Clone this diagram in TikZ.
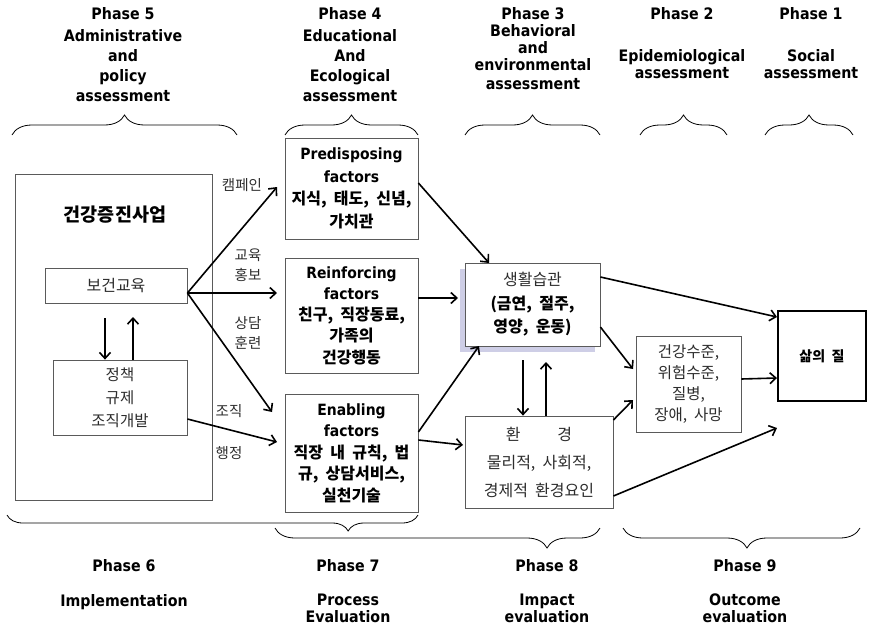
\documentclass[tikz,border=0pt]{standalone}
\usepackage{fontspec}
\setmainfont{DejaVu Sans}
\newfontfamily\enb[FakeStretch=0.9]{DejaVu Sans}
\newfontfamily\kr[WordSpace=2]{Noto Sans CJK KR}
\usetikzlibrary{arrows.meta,decorations.pathreplacing}
\definecolor{bord}{RGB}{90,90,90}
\definecolor{txt}{RGB}{45,45,45}
\definecolor{shadowc}{RGB}{206,206,230}
\newcommand\EB[1]{{\enb\bfseries\fontsize{15.5}{21}\selectfont #1}}
\newcommand\KB[1]{{\kr\bfseries\fontsize{16}{21}\selectfont #1}}
\newcommand\KR[1]{{\kr\fontsize{16}{21}\selectfont #1}}
\begin{document}
\begin{tikzpicture}[x=1pt,y=-1pt,
  box/.style={draw=bord, line width=0.8pt, fill=white, inner sep=0pt, align=center, text=txt},
  arr/.style={-{Straight Barb[length=6pt,width=11pt]}, line width=1.6pt},
  hd/.style={font=\enb\bfseries\fontsize{15.8}{18}\selectfont, inner sep=0pt, text height=11pt, text depth=3pt},
  lab/.style={font=\kr\fontsize{14.5}{20}\selectfont, inner sep=0pt, align=center, text=txt},
  brc/.style={decorate, line width=0.8pt},
]
\useasboundingbox (0,0) rectangle (869,629);

% ---- top headers
\node[hd] (h5a) at (123,15) {Phase 5};
\node[hd] (h5b) at (123,37) {Administrative};
\node[hd] (h5c) at (123,57) {and};
\node[hd] (h5d) at (123,77) {policy};
\node[hd] (h5e) at (123,97) {assessment};

\node[hd] (h4a) at (350,15) {Phase 4};
\node[hd] (h4b) at (350,37) {Educational};
\node[hd] (h4c) at (350,57) {And};
\node[hd] (h4d) at (350,77) {Ecological};
\node[hd] (h4e) at (350,97) {assessment};

\node[hd] (h3a) at (533,15) {Phase 3};
\node[hd] (h3b) at (533,32) {Behavioral};
\node[hd] (h3c) at (533,49) {and};
\node[hd] (h3d) at (533,66) {environmental};
\node[hd] (h3e) at (533,85) {assessment};

\node[hd] (h2a) at (682,15) {Phase 2};
\node[hd] (h2b) at (682,57) {Epidemiological};
\node[hd] (h2c) at (682,74) {assessment};

\node[hd] (h1a) at (811,15) {Phase 1};
\node[hd] (h1b) at (811,57) {Social};
\node[hd] (h1c) at (811,74) {assessment};

% ---- top braces
\draw[brc, decoration={brace, amplitude=20pt}] (12,135) -- (237,135);
\draw[brc, decoration={brace, amplitude=20pt}] (285,135) -- (418,135);
\draw[brc, decoration={brace, amplitude=20pt}] (465,135) -- (600,135);
\draw[brc, decoration={brace, amplitude=20pt}] (640,135) -- (727,135);
\draw[brc, decoration={brace, amplitude=20pt}] (765,135) -- (853,135);

% ---- left program box
\node[box, draw=bord, minimum width=197pt, minimum height=326pt] (big) at (113.5,337) {};
\node[inner sep=0pt, font=\kr\bfseries\fontsize{18.5}{20}\selectfont] (title) at (115,215) {건강증진사업};
\node[box, minimum width=142pt, minimum height=35pt, font=\kr\fontsize{16}{20}\selectfont] (heb) at (116,285.5) {보건교육};
\node[box, minimum width=134pt, minimum height=75pt, font=\kr\fontsize{15.5}{23}\selectfont] (pol) at (120,397.5) {정책\\규제\\조직개발};

% ---- factor boxes
\node[box, text=black, minimum width=133pt, minimum height=101pt, font=\fontsize{15}{22.5}\selectfont] (pre) at (351.5,188.5)
  {\EB{Predisposing}\\\EB{factors}\\\KB{지식, 태도, 신념,}\\\KB{가치관}};
\node[box, text=black, minimum width=133pt, minimum height=115pt, font=\fontsize{15}{21.3}\selectfont] (rei) at (351.5,315.5)
  {\EB{Reinforcing}\\\EB{factors}\\\KB{친구, 직장동료,}\\\KB{가족의}\\\KB{건강행동}};
\node[box, text=black, minimum width=133pt, minimum height=118pt, font=\fontsize{15}{21.5}\selectfont] (ena) at (351.5,453)
  {\EB{Enabling}\\\EB{factors}\\\KB{직장 내 규칙, 법}\\\KB{규, 상담서비스,}\\\KB{실천기술}};

% ---- behaviour and environment
\fill[shadowc] (460,269) rectangle (595,352);
\node[box, text=black, minimum width=135pt, minimum height=83pt, font=\fontsize{15}{23.5}\selectfont] (life) at (532.5,304.5)
  {{\color{txt}\KR{생활습관}}\\\KB{(금연, 절주,}\\\KB{영양, 운동)}};
\node[box, minimum width=148pt, minimum height=92pt, font=\kr\fontsize{16}{28}\selectfont] (env) at (539,462)
  {환\hspace{37pt}경\\물리적, 사회적,\\경제적 환경요인};

% ---- outcomes
\node[box, minimum width=105pt, minimum height=96pt, font=\kr\fontsize{15.5}{21}\selectfont] (hlth) at (688.5,384)
  {건강수준,\\위험수준,\\질병,\\장애, 사망};
\node[box, draw=black, text=black, line width=2.5pt, minimum width=88pt, minimum height=90pt, font=\kr\bfseries\fontsize{14}{18}\selectfont] (qol) at (822,356) {삶의 질};

% ---- connector labels
\node[lab] (l1) at (242,185) {캠페인};
\node[lab] (l2) at (248,265) {교육\\홍보};
\node[lab] (l3) at (248,333) {상담\\훈련};
\node[lab] (l4) at (229,411) {조직};
\node[lab] (l5) at (229,453) {행정};

% ---- connector end points
\coordinate (e1) at (277,187);
\coordinate (e2) at (277,293);
\coordinate (e3) at (272,412);
\coordinate (e4) at (277,442);
\coordinate (d1) at (105,318);
\coordinate (u1) at (133,317);
\coordinate (e6) at (489,263);
\coordinate (e7) at (458,298);
\coordinate (e8) at (479,346);
\coordinate (e9) at (463,445);
\coordinate (d2) at (523,360);
\coordinate (u2) at (546,362);
\coordinate (e11) at (777,317);
\coordinate (e12) at (633,369);
\coordinate (e13) at (633,400);
\coordinate (e14) at (777,378);
\coordinate (e15) at (777,428);

% ---- connectors
\draw[arr] ([yshift=-7.5pt]heb.east) -- (e1);
\draw[arr] ([yshift=-7.5pt]heb.east) -- (e2);
\draw[arr] ([yshift=-7.5pt]heb.east) -- (e3);
\draw[arr] ([yshift=-21.5pt]pol.east) -- (e4);
\draw[arr] (d1) -- (d1 |- pol.north);
\draw[arr] (pol.north -| u1) -- (u1);
\draw[arr] ([yshift=5.5pt]pre.east) -- (e6);
\draw[arr] ([yshift=17.5pt]rei.east) -- (e7);
\draw[arr] ([yshift=21pt]ena.east) -- (e8);
\draw[arr] ([yshift=13pt]ena.east) -- (e9);
\draw[arr] (d2) -- (d2 |- env.north);
\draw[arr] (env.north -| u2) -- (u2);
\draw[arr] ([yshift=27.5pt]life.east) -- (e11);
\draw[arr] ([yshift=-22.5pt]life.east) -- (e12);
\draw[arr] ([yshift=42pt]env.east) -- (e13);
\draw[arr] ([yshift=5pt]hlth.east) -- (e14);
\draw[arr] ([yshift=-34pt]env.east) -- (e15);

% ---- bottom braces
\draw[brc, decoration={brace, amplitude=16pt, mirror, aspect=0.83}] (7,515) -- (418,515);
\draw[brc, decoration={brace, amplitude=20pt, mirror, aspect=0.837}] (275,528) -- (600,528);
\draw[brc, decoration={brace, amplitude=20pt, mirror, aspect=0.523}] (623,528) -- (860,528);

% ---- bottom labels
\node[hd] (b6a) at (124,567) {Phase 6};
\node[hd] (b6b) at (124,602) {Implementation};
\node[hd] (b7a) at (348,567) {Phase 7};
\node[hd] (b7b) at (348,601) {Process};
\node[hd] (b7c) at (348,618) {Evaluation};
\node[hd] (b8a) at (547,567) {Phase 8};
\node[hd] (b8b) at (547,601) {Impact};
\node[hd] (b8c) at (547,618) {evaluation};
\node[hd] (b9a) at (745,567) {Phase 9};
\node[hd] (b9b) at (745,601) {Outcome};
\node[hd] (b9c) at (745,618) {evaluation};
\end{tikzpicture}
\end{document}
